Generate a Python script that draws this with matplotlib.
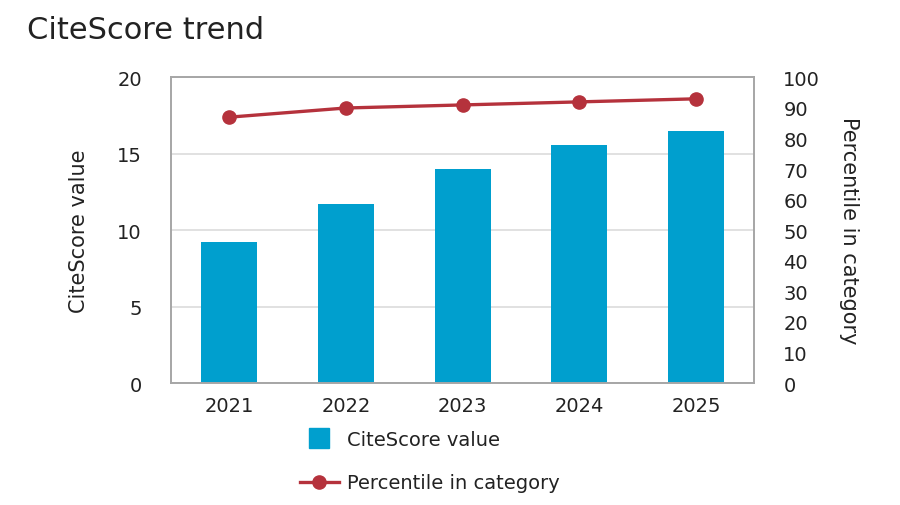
import matplotlib
matplotlib.use("Agg")
import matplotlib.pyplot as plt
from matplotlib.lines import Line2D
import numpy as np

years = ["2021", "2022", "2023", "2024", "2025"]
citescore = [9.2, 11.7, 14.0, 15.6, 16.5]
percentile = [87, 90, 91, 92, 93]
left_ticks = [0, 5, 10, 15, 20]
right_ticks = [0, 10, 20, 30, 40, 50, 60, 70, 80, 90, 100]

BAR = "#009FCE"
LINE = "#B5323C"
TXT = "#222222"
SPINE = "#A6A6A6"
GRID = "#DCDCDC"

plt.rcParams["font.family"] = ["DejaVu Sans"]

fig = plt.figure(figsize=(9, 5.06), dpi=100)
ax = fig.add_axes([0.19, 0.241, 0.648, 0.604])

x = np.arange(len(years))
ax.bar(x, citescore, width=0.48, color=BAR, zorder=2)
ax.set_xlim(-0.5, len(years) - 0.5)
ax.set_ylim(0, 20)
ax.set_yticks(left_ticks)
ax.set_xticks(x)
ax.set_xticklabels(years)
ax.yaxis.grid(True, color=GRID, linewidth=1.2)
ax.set_axisbelow(True)
ax.tick_params(axis="both", length=0, labelsize=14, colors=TXT)
ax.tick_params(axis="y", pad=21)
ax.tick_params(axis="x", pad=9)
ax.set_ylabel("CiteScore value", fontsize=15, color=TXT, labelpad=20)

ax2 = ax.twinx()
ax2.plot(x, percentile, color=LINE, linewidth=2.4, marker="o", markersize=9.5, zorder=3)
ax2.set_ylim(0, 100)
ax2.set_yticks(right_ticks)
ax2.tick_params(axis="y", length=0, labelsize=14, colors=TXT, pad=21)
ax2.set_ylabel("Percentile in category", fontsize=15, color=TXT, rotation=-90, labelpad=28)

for a in (ax, ax2):
    for s in a.spines.values():
        s.set_color(SPINE)
        s.set_linewidth(1.2)

fig.text(0.03, 0.922, "CiteScore trend", fontsize=22, color=TXT, ha="left", va="baseline")

handles = [
    Line2D([], [], linestyle="none", marker="s", markersize=14, color=BAR),
    Line2D([], [], color=LINE, linewidth=2.4, marker="o", markersize=9.5),
]
leg = fig.legend(handles, ["CiteScore value", "Percentile in category"],
                 loc="upper left", bbox_to_anchor=(0.333, 0.148), frameon=False,
                 fontsize=14, handlelength=2.0, handletextpad=0.45, labelspacing=1.25,
                 borderaxespad=0, borderpad=0)
for t in leg.get_texts():
    t.set_color(TXT)

fig.savefig("out.png", dpi=100)
